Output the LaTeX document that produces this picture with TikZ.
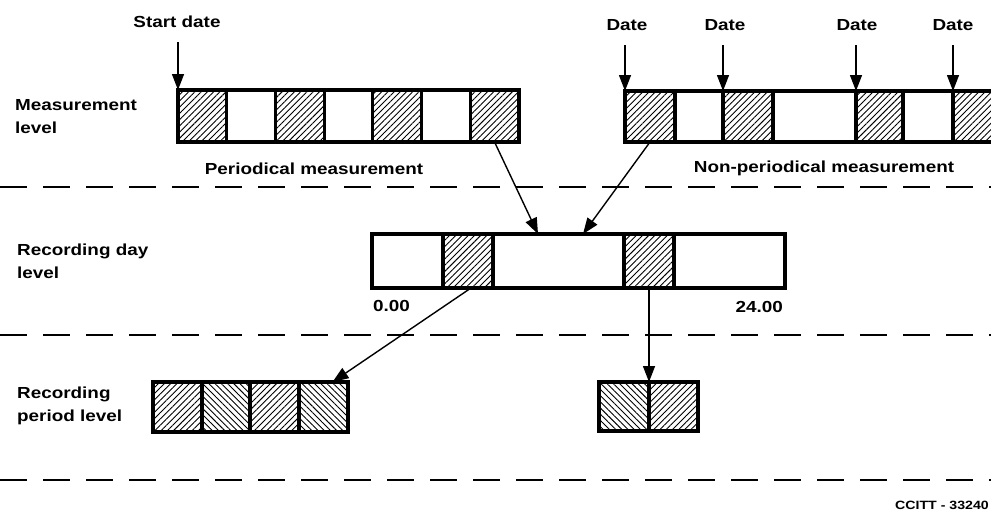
\documentclass[tikz,border=0pt]{standalone}
\usepackage{fontspec}
\setmainfont{Liberation Sans}[FakeStretch=1.18]
\usetikzlibrary{patterns.meta,arrows.meta}
\begin{document}
\begin{tikzpicture}[x=1pt,y=-1pt,
  cell/.style={draw, line width=3.2pt, inner sep=0pt, outer sep=0pt, anchor=north west},
  hne/.style={pattern={Lines[angle=45,distance=4.4pt,line width=0.9pt]}},
  hnw/.style={pattern={Lines[angle=-45,distance=4.4pt,line width=0.9pt]}},
  lbl/.style={font=\fontsize{16}{23}\selectfont\bfseries, inner sep=0pt},
  reftxt/.style={font=\fontsize{12}{14}\selectfont\bfseries, inner sep=0pt},
  arr/.style={line width=1.4pt, -{Triangle[length=16pt,width=12pt]}},
  sep/.style={line width=1.6pt, dash pattern=on 27pt off 16pt}]
\useasboundingbox (0,0) rectangle (991,517);

% separators
\draw[sep] (0,187) -- (991,187);
\draw[sep] (0,335) -- (991,335);
\draw[sep] (0,480) -- (991,480);

% level labels
\node[lbl, anchor=base west, align=left] (ml) at (15,133) {Measurement\\level};
\node[lbl, anchor=base west, align=left] (rdl) at (17,278) {Recording day\\level};
\node[lbl, anchor=base west, align=left] (rpl) at (17,421) {Recording\\period level};

% periodical measurement bar
\node[cell, hne, minimum width=48.7pt, minimum height=52pt] (p1) at (178,90) {};
\node[cell, minimum width=48.7pt, minimum height=52pt] (p2) at (226.7,90) {};
\node[cell, hne, minimum width=48.7pt, minimum height=52pt] (p3) at (275.4,90) {};
\node[cell, minimum width=48.7pt, minimum height=52pt] (p4) at (324.1,90) {};
\node[cell, hne, minimum width=48.7pt, minimum height=52pt] (p5) at (372.8,90) {};
\node[cell, minimum width=48.7pt, minimum height=52pt] (p6) at (421.5,90) {};
\node[cell, hne, minimum width=48.7pt, minimum height=52pt] (p7) at (470.2,90) {};

\node[lbl, anchor=base] (sd) at (177,27) {Start date};
\coordinate (sda) at (178,42);
\draw[arr] (sda) -- (p1.north west);
\node[lbl, anchor=base] (pm) at (314,174) {Periodical measurement};

% non-periodical measurement bar
\node[cell, hne, minimum width=50pt, minimum height=51pt] (n1) at (625,91) {};
\node[cell, minimum width=48pt, minimum height=51pt] (n2) at (675,91) {};
\node[cell, hne, minimum width=50pt, minimum height=51pt] (n3) at (723,91) {};
\node[cell, minimum width=83pt, minimum height=51pt] (n4) at (773,91) {};
\node[cell, hne, minimum width=47pt, minimum height=51pt] (n5) at (856,91) {};
\node[cell, minimum width=50pt, minimum height=51pt] (n6) at (903,91) {};
\node[cell, hne, minimum width=50pt, minimum height=51pt] (n7) at (953,91) {};

\node[lbl, anchor=base] (dt1) at (627,30) {Date};
\node[lbl, anchor=base] (dt2) at (725,30) {Date};
\node[lbl, anchor=base] (dt3) at (857,30) {Date};
\node[lbl, anchor=base] (dt4) at (953,30) {Date};
\coordinate (da1) at (625,45);
\coordinate (da2) at (723,45);
\coordinate (da3) at (856,45);
\coordinate (da4) at (953,45);
\draw[arr] (da1) -- (n1.north west);
\draw[arr] (da2) -- (n3.north west);
\draw[arr] (da3) -- (n5.north west);
\draw[arr] (da4) -- (n7.north west);
\node[lbl, anchor=base] (npm) at (824,172) {Non-periodical measurement};

% recording day bar
\node[cell, minimum width=71pt, minimum height=54pt] (d1) at (372,234) {};
\node[cell, hne, minimum width=50pt, minimum height=54pt] (d2) at (443,234) {};
\node[cell, minimum width=131pt, minimum height=54pt] (d3) at (493,234) {};
\node[cell, hne, minimum width=50pt, minimum height=54pt] (d4) at (624,234) {};
\node[cell, minimum width=111pt, minimum height=54pt] (d5) at (674,234) {};
\node[lbl, anchor=base west] (t0) at (373,311) {0.00};
\node[lbl, anchor=base east] (t24) at (783,312) {24.00};

\draw[arr] (p7.south) -- ([xshift=45pt]d3.north west);
\draw[arr] (n1.south) -- ([xshift=90pt]d3.north west);

% recording period boxes
\node[cell, hne, minimum width=49pt, minimum height=50pt] (q1) at (153,382) {};
\node[cell, hnw, minimum width=48pt, minimum height=50pt] (q2) at (202,382) {};
\node[cell, hne, minimum width=49pt, minimum height=50pt] (q3) at (250,382) {};
\node[cell, hnw, minimum width=49pt, minimum height=50pt] (q4) at (299,382) {};
\node[cell, hnw, minimum width=50pt, minimum height=49pt] (r1) at (599,382) {};
\node[cell, hne, minimum width=49pt, minimum height=49pt] (r2) at (649,382) {};

\draw[arr] ([xshift=3pt]d2.south) -- ([xshift=9pt]q4.north);
\draw[arr] (d4.south) -- (r1.north east);

\node[reftxt, anchor=base east] (ref) at (989,509) {CCITT - 33240};
\end{tikzpicture}
\end{document}
